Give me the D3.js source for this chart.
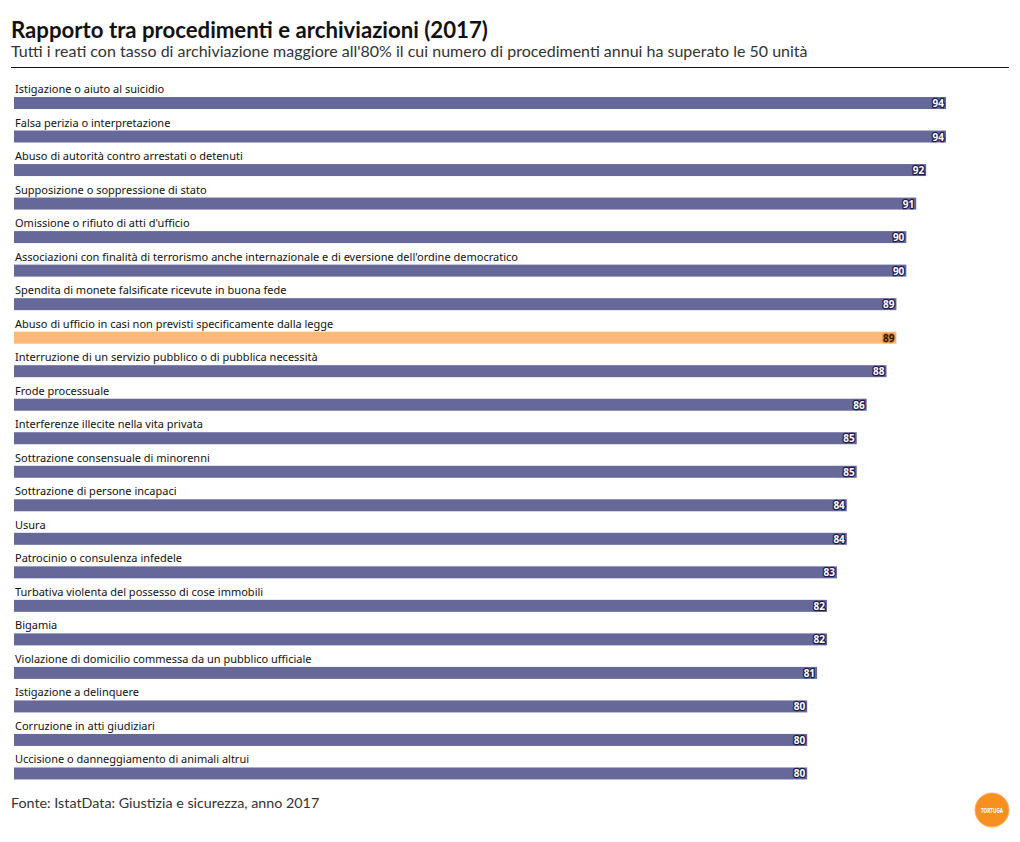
<!DOCTYPE html>
<html><head><meta charset="utf-8">
<script src="https://cdn.jsdelivr.net/npm/d3@7"></script>
<style>
body{margin:0;background:#fff;}
svg{display:block;}
</style></head>
<body>
<script>
const categories = [
  "Istigazione o aiuto al suicidio",
  "Falsa perizia o interpretazione",
  "Abuso di autorità contro arrestati o detenuti",
  "Supposizione o soppressione di stato",
  "Omissione o rifiuto di atti d'ufficio",
  "Associazioni con finalità di terrorismo anche internazionale e di eversione dell'ordine democratico",
  "Spendita di monete falsificate ricevute in buona fede",
  "Abuso di ufficio in casi non previsti specificamente dalla legge",
  "Interruzione di un servizio pubblico o di pubblica necessità",
  "Frode processuale",
  "Interferenze illecite nella vita privata",
  "Sottrazione consensuale di minorenni",
  "Sottrazione di persone incapaci",
  "Usura",
  "Patrocinio o consulenza infedele",
  "Turbativa violenta del possesso di cose immobili",
  "Bigamia",
  "Violazione di domicilio commessa da un pubblico ufficiale",
  "Istigazione a delinquere",
  "Corruzione in atti giudiziari",
  "Uccisione o danneggiamento di animali altrui"
];
const values = [94,94,92,91,90,90,89,89,88,86,85,85,84,84,83,82,82,81,80,80,80];
const highlighted = ["Abuso di ufficio in casi non previsti specificamente dalla legge"];
const titleText = "Rapporto tra procedimenti e archiviazioni (2017)";
const subtitleText = "Tutti i reati con tasso di archiviazione maggiore all'80% il cui numero di procedimenti annui ha superato le 50 unità";
const sourceText = "Fonte: IstatData: Giustizia e sicurezza, anno 2017";

const W = 1020, H = 842;
const svg = d3.select("body").append("svg").attr("width", W).attr("height", H);

svg.append("text").attr("x", 11).attr("y", 38)
  .attr("font-family", "Lato, 'Noto Sans', sans-serif").attr("font-weight", 700)
  .attr("font-size", 22.2).attr("fill", "#111").text(titleText);
svg.append("text").attr("x", 11).attr("y", 57)
  .attr("font-family", "Lato, 'Noto Sans', sans-serif")
  .attr("font-size", 16).attr("fill", "#333").text(subtitleText);
svg.append("line").attr("x1", 11).attr("x2", 1009).attr("y1", 67.5).attr("y2", 67.5)
  .attr("stroke", "#111").attr("stroke-width", 1.2);

const x = d3.scaleLinear().domain([0, 94]).range([14, 946]);
const y = d3.scaleBand().domain(categories).range([80, 784]).paddingInner(0).paddingOuter(0);

const data = categories.map((c, i) => ({c, v: values[i], hl: highlighted.includes(c)}));

const g = svg.append("g");
const row = g.selectAll("g.row").data(data).join("g").attr("class", "row")
  .attr("transform", d => `translate(0,${y(d.c)})`);

row.append("text").attr("x", 15).attr("y", 13)
  .attr("font-family", "'Noto Sans', sans-serif").attr("font-size", 11)
  .attr("fill", "#111").text(d => d.c);

row.append("rect").attr("x", x(0)).attr("y", 17)
  .attr("width", d => x(d.v) - x(0)).attr("height", 12)
  .attr("fill", d => d.hl ? "#fdb97a" : "#67689a");

row.append("text").attr("x", d => x(d.v) - 2).attr("y", 27)
  .attr("text-anchor", "end")
  .attr("font-family", "'Noto Sans', sans-serif").attr("font-weight", 700).attr("font-size", 10)
  .attr("stroke", d => d.hl ? "#e08a3a" : "#1b1b4e").attr("stroke-width", 2.5)
  .attr("paint-order", "stroke").attr("stroke-linejoin", "round")
  .attr("fill", d => d.hl ? "#2a1500" : "#fff")
  .text(d => d.v);

svg.append("text").attr("x", 11).attr("y", 808)
  .attr("font-family", "Lato, 'Noto Sans', sans-serif")
  .attr("font-size", 14.3).attr("fill", "#333").text(sourceText);

const logo = svg.append("g").attr("transform", "translate(992,810)");
logo.append("circle").attr("r", 17).attr("fill", "#f7901e").attr("stroke", "#fbb36a").attr("stroke-width", 1);
logo.append("text").attr("y", 2.5).attr("text-anchor", "middle")
  .attr("font-family", "'Liberation Sans Narrow', 'Noto Sans', sans-serif").attr("font-weight", 700)
  .attr("font-size", 6.5).attr("textLength", 22).attr("lengthAdjust", "spacingAndGlyphs")
  .attr("fill", "#fff").text("TORTUGA");
</script>
</body></html>
